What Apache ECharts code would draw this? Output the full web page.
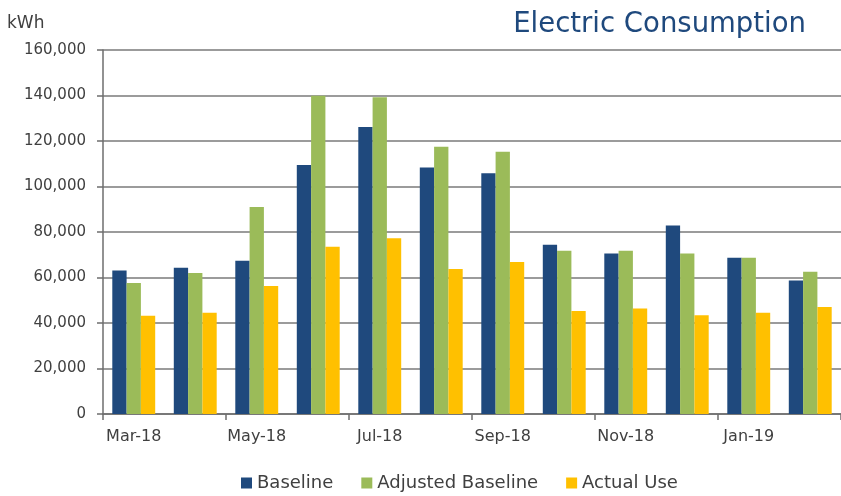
<!DOCTYPE html>
<html>
<head>
<meta charset="utf-8">
<script src="https://cdn.jsdelivr.net/npm/echarts@6/dist/echarts.min.js"></script>
<style>html,body{margin:0;padding:0;background:#fff;}#c{width:841px;height:496px;}</style>
</head>
<body>
<div id="c"></div>
<script>
const categories = ['Mar-18','Apr-18','May-18','Jun-18','Jul-18','Aug-18','Sep-18','Oct-18','Nov-18','Dec-18','Jan-19','Feb-19'];
const baseline = [63100, 64300, 67400, 109400, 126200, 108300, 105800, 74400, 70600, 82900, 68700, 58700];
const adjustedBaseline = [57600, 62000, 91000, 139900, 139200, 117500, 115300, 71800, 71800, 70600, 68700, 62500];
const actualUse = [43200, 44500, 56300, 73500, 77200, 63700, 66800, 45300, 46400, 43400, 44500, 47000];
const seriesNames = ['Baseline', 'Adjusted Baseline', 'Actual Use'];

const FONT = '"DejaVu Sans", sans-serif';
const chart = echarts.init(document.getElementById('c'), null, {renderer: 'canvas'});
chart.setOption({
  animation: false,
  title: {
    text: 'Electric Consumption',
    right: 30, top: 6,
    textStyle: {color: '#1F497D', fontSize: 27.5, fontWeight: 'normal', fontFamily: FONT}
  },
  legend: {
    bottom: -1, left: 236,
    itemWidth: 11, itemHeight: 11, itemGap: 28,
    icon: 'rect',
    textStyle: {color: '#404040', fontSize: 18, fontFamily: FONT},
    data: seriesNames
  },
  grid: {left: 103, right: -9, top: 50, bottom: 82},
  xAxis: {
    type: 'category',
    data: categories,
    boundaryGap: true,
    axisLine: {lineStyle: {color: '#6e6e6e', width: 1.5}},
    axisTick: {show: true, interval: 1, length: 6, lineStyle: {color: '#6e6e6e', width: 1.5}},
    axisLabel: {interval: 1, color: '#404040', fontSize: 16, fontFamily: FONT, margin: 15}
  },
  yAxis: {
    type: 'value',
    min: 0, max: 160000, interval: 20000,
    name: 'kWh',
    nameLocation: 'end',
    nameGap: 18,
    nameTextStyle: {color: '#404040', fontSize: 17, fontFamily: FONT, align: 'left', padding: [0, 0, 0, -96]},
    axisLine: {show: true, lineStyle: {color: '#6e6e6e', width: 1.5}},
    axisTick: {show: true, length: 6, lineStyle: {color: '#6e6e6e', width: 1.5}},
    splitLine: {lineStyle: {color: '#7a7a7a', width: 1.5}},
    axisLabel: {
      color: '#404040', fontSize: 15, fontFamily: FONT, margin: 17,
      formatter: v => v.toLocaleString('en-US')
    }
  },
  series: [
    {name: seriesNames[0], type: 'bar', data: baseline, barWidth: 14.3, barGap: '0%', itemStyle: {color: '#1F497D'}},
    {name: seriesNames[1], type: 'bar', data: adjustedBaseline, barWidth: 14.3, barGap: '0%', itemStyle: {color: '#9BBB59'}},
    {name: seriesNames[2], type: 'bar', data: actualUse, barWidth: 14.3, barGap: '0%', itemStyle: {color: '#FFC000'}}
  ]
});
</script>
</body>
</html>
